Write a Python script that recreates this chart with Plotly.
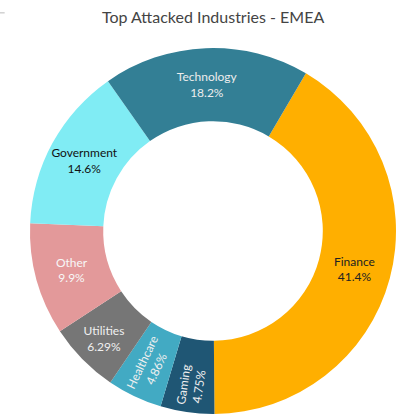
import plotly.graph_objects as go

# Share of attacks by industry (percent)
industries = ["Finance", "Gaming", "Healthcare", "Utilities", "Other", "Government", "Technology"]
shares = [41.4, 4.75, 4.86, 6.29, 9.9, 14.6, 18.2]

slice_colors = ["#FFAF00", "#1F5674", "#42AAC3", "#767676", "#E3999A", "#80ECF4", "#337F95"]
label_colors = ["#222222", "#F0F0F0", "#F0F0F0", "#F0F0F0", "#F7F7F7", "#111111", "#EDEDED"]

# Narrow slices get radial labels, the rest horizontal ones
radial_slices = {"Gaming", "Healthcare"}
template = "%{label}<br>%{value}%"
horizontal_tpl = ["" if name in radial_slices else template for name in industries]
radial_tpl = [template if name in radial_slices else "" for name in industries]

common = dict(
    labels=industries,
    values=shares,
    hole=0.6,
    sort=False,
    direction="clockwise",
    rotation=30.5,
    textposition="inside",
    textfont=dict(family="Lato", size=12, color=label_colors),
    showlegend=False,
)

fig = go.Figure()
fig.add_trace(go.Pie(
    **common,
    marker=dict(colors=slice_colors, line=dict(width=0)),
    texttemplate=horizontal_tpl,
    insidetextorientation="horizontal",
))
fig.add_trace(go.Pie(
    **common,
    marker=dict(colors=["rgba(0,0,0,0)"] * len(industries), line=dict(width=0)),
    texttemplate=radial_tpl,
    insidetextorientation="radial",
    hoverinfo="skip",
))

fig.update_layout(
    width=402,
    height=414,
    margin=dict(l=27, r=3, t=48, b=0),
    paper_bgcolor="white",
    plot_bgcolor="white",
    title=dict(
        text="Top Attacked Industries - EMEA",
        x=0.53,
        xanchor="center",
        y=0.958,
        yanchor="middle",
        font=dict(family="Lato", size=16, color="#444444"),
    ),
    shapes=[
        dict(type="line", xref="paper", yref="paper", x0=-0.08, x1=-0.06, y0=1.096, y1=1.096,
             line=dict(color="#BBBBBB", width=1)),
    ],
)

fig.write_html("out.html")
